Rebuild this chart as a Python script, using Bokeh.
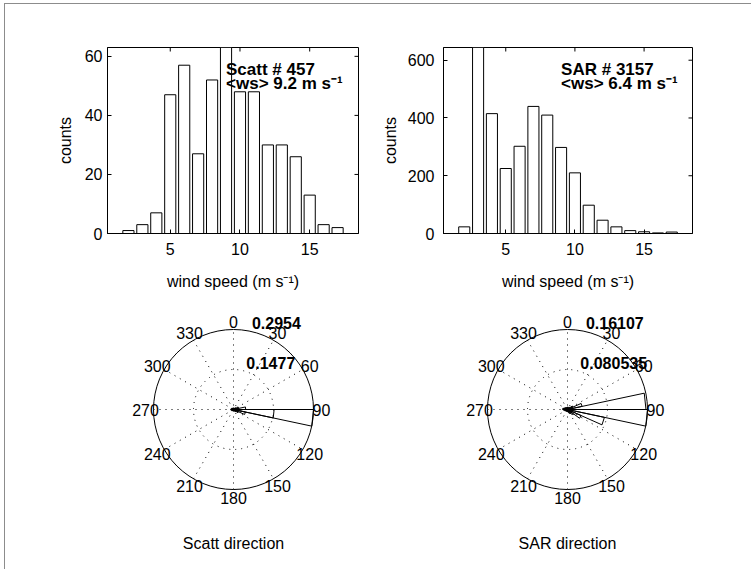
import math
from bokeh.plotting import figure
from bokeh.layouts import column, row
from bokeh.models import FixedTicker, Range1d
from bokeh.embed import file_html
from bokeh.resources import INLINE
from bokeh.core.properties import value

# ---------------- data ----------------
speed_bins = list(range(2, 18))
scatt_counts = [1, 3, 7, 47, 57, 27, 52, 63, 48, 48, 30, 30, 26, 13, 3, 2]
sar_counts = [23, 644, 415, 225, 302, 440, 410, 298, 210, 98, 46, 23, 10, 6, 2, 5]
scatt_n = 457
scatt_mean = 9.2
sar_n = 3157
sar_mean = 6.4
speed_ticks = [5, 10, 15]
scatt_yticks = [0, 20, 40, 60]
sar_yticks = [0, 200, 400, 600]

dir_centers = list(range(0, 360, 12))  # 30 rose bins, 12 deg wide
scatt_dir = [0.006, 0.004, 0.004, 0.006, 0.008, 0.012, 0.02, 0.045, 0.2954, 0.045,
             0.02, 0.012, 0.008, 0.006, 0.005, 0.005, 0.004, 0.004, 0.004, 0.005,
             0.006, 0.008, 0.01, 0.01, 0.008, 0.006, 0.005, 0.004, 0.004, 0.005]
scatt_dir_inner = [0, 0, 0, 0, 0, 0, 0, 0, 0.15, 0,
                   0, 0, 0, 0, 0, 0, 0, 0, 0, 0,
                   0, 0, 0, 0, 0, 0, 0, 0, 0, 0]
sar_dir = [0.005, 0.004, 0.004, 0.005, 0.007, 0.012, 0.03, 0.158, 0.16107, 0.076,
           0.03, 0.015, 0.01, 0.007, 0.005, 0.004, 0.004, 0.004, 0.004, 0.004,
           0.005, 0.006, 0.008, 0.01, 0.008, 0.006, 0.005, 0.004, 0.004, 0.004]
angle_labels = list(range(0, 360, 30))

FONT = "Liberation Sans"
FS = "16px"
FS_BOLD = "17px"
X0, X1 = 0.5, 18.5
FRAME_H = 186
TICK = 4


def style_axis(ax):
    ax.axis_line_color = "black"
    ax.major_tick_line_color = "black"
    ax.major_tick_in = TICK
    ax.major_tick_out = 0
    ax.minor_tick_line_color = None
    ax.major_label_text_font = FONT
    ax.major_label_text_font_size = FS
    ax.major_label_text_color = "black"
    ax.axis_label_text_font = FONT
    ax.axis_label_text_font_size = FS
    ax.axis_label_text_font_style = "normal"
    ax.axis_label_text_color = "black"


def hist_fig(counts, yticks, name, n, mean, width, bl, frame_w, ystand, ylab_stand):
    ymax = max(counts)
    br = width - bl - frame_w
    p = figure(width=width, height=296, x_range=Range1d(X0, X1), y_range=Range1d(0, ymax),
               output_backend="svg", toolbar_location=None,
               min_border_left=bl, min_border_right=br, min_border_top=43,
               min_border_bottom=296 - 43 - FRAME_H)
    p.vbar(x=speed_bins, top=counts, width=0.8, fill_color="white", line_color="black", line_width=1)
    p.grid.visible = False
    p.outline_line_color = "black"
    p.outline_line_alpha = 1
    p.xaxis.ticker = FixedTicker(ticks=speed_ticks)
    p.yaxis.ticker = FixedTicker(ticks=yticks)
    style_axis(p.xaxis[0])
    style_axis(p.yaxis[0])
    p.xaxis.axis_label = "wind speed (m s\u207b\u00b9)"
    p.yaxis.axis_label = "counts"
    p.xaxis.major_label_standoff = 9
    p.xaxis.axis_label_standoff = 15
    p.yaxis.major_label_standoff = ystand
    p.yaxis.axis_label_standoff = ylab_stand
    # mirrored ticks on top and right edges (inside)
    dy = TICK * ymax / FRAME_H
    dx = TICK * (X1 - X0) / frame_w
    p.segment(x0=speed_ticks, y0=[ymax] * 3, x1=speed_ticks, y1=[ymax - dy] * 3,
              line_color="black", line_width=1)
    p.segment(x0=[X1] * len(yticks), y0=yticks, x1=[X1 - dx] * len(yticks), y1=yticks,
              line_color="black", line_width=1)
    p.text(x=[9, 9], y=[0.88 * ymax, 0.805 * ymax],
           text=[f"{name} # {n}", f"<ws> {mean} m s\u207b\u00b9"],
           text_font=value(FONT), text_font_style="bold", text_font_size=FS_BOLD,
           text_baseline="middle", text_align="left", text_color="black")
    return p


def petals(vals):
    xs, ys = [], []
    for c, r in zip(dir_centers, vals):
        if r <= 0:
            continue
        t1 = math.radians(c - 6)
        t2 = math.radians(c + 6)
        xs.append([0, r * math.sin(t1), r * math.sin(t2), 0])
        ys.append([0, r * math.cos(t1), r * math.cos(t2), 0])
    return xs, ys


def polar_fig(vals, inner, width, cx, title):
    rmax = max(vals)
    k = 80.0 / rmax
    p = figure(width=width, height=269, x_range=Range1d(-cx / k, (width - cx) / k),
               y_range=Range1d(-160 / k, 109 / k), x_axis_type=None, y_axis_type=None,
               min_border=0, output_backend="svg", toolbar_location=None)
    p.grid.visible = False
    p.outline_line_color = None
    # spokes
    sx, sy = [], []
    for a in range(0, 180, 30):
        t = math.radians(a)
        sx.append([-rmax * math.sin(t), rmax * math.sin(t)])
        sy.append([-rmax * math.cos(t), rmax * math.cos(t)])
    p.multi_line(xs=sx, ys=sy, line_color="black", line_dash="1 5", line_width=1)
    p.circle(x=[0], y=[0], radius=rmax / 2, fill_color=None, line_color="black",
             line_dash="1 5", line_width=1)
    p.circle(x=[0], y=[0], radius=rmax, fill_color=None, line_color="black", line_width=1)
    # angle labels
    lx = [1.1 * rmax * math.sin(math.radians(a)) for a in angle_labels]
    ly = [1.1 * rmax * math.cos(math.radians(a)) for a in angle_labels]
    p.text(x=lx, y=ly, text=[str(a) for a in angle_labels], text_font=value(FONT),
           text_font_size=FS, text_align="center", text_baseline="middle", text_color="black")
    # radial labels
    rings = [rmax / 2, rmax]
    rr = [r + rmax / 2 / 20 for r in rings]
    t8 = math.radians(8)
    p.text(x=[r * math.sin(t8) for r in rr], y=[r * math.cos(t8) for r in rr],
           text=[f"{r:.5g}" for r in rings], x_offset=7, y_offset=1, text_font=value(FONT),
           text_font_style="bold", text_font_size=FS, text_align="left",
           text_baseline="bottom", text_color="black")
    # rose petals
    xs, ys = petals(vals)
    p.multi_line(xs=xs, ys=ys, line_color="black", line_width=1)
    xs2, ys2 = petals(inner)
    if xs2:
        p.multi_line(xs=xs2, ys=ys2, line_color="black", line_width=1)
    p.text(x=[0], y=[-1.675 * rmax], text=[title], text_font=value(FONT), text_font_size=FS,
           text_align="center", text_baseline="middle", text_color="black")
    return p


h1 = hist_fig(scatt_counts, scatt_yticks, "Scatt", scatt_n, scatt_mean, 360, 102, 251, 5, 8)
h2 = hist_fig(sar_counts, sar_yticks, "SAR", sar_n, sar_mean, 386, 78, 249, 9, 6)
p1 = polar_fig(scatt_dir, scatt_dir_inner, 395, 228, "Scatt direction")
p2 = polar_fig(sar_dir, [0] * 30, 351, 167, "SAR direction")

root = column(row(h1, h2), row(p1, p2),
              styles={"border-left": "1px solid #8c8c8c", "border-top": "1px solid #8c8c8c",
                      "margin-left": "4px", "margin-top": "3px"})

open("out.html", "w").write(file_html(root, INLINE))
